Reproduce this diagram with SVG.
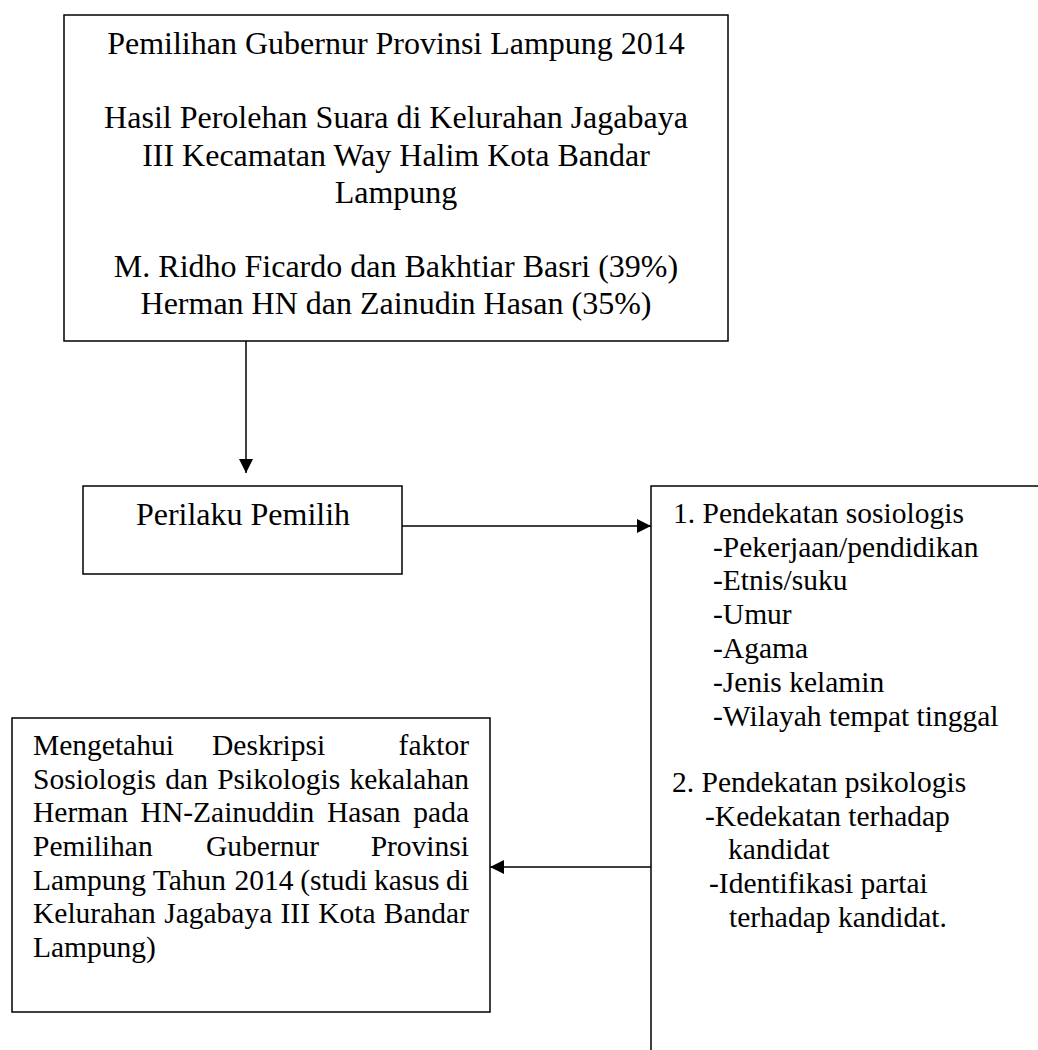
<svg xmlns="http://www.w3.org/2000/svg" width="1038" height="1050" viewBox="0 0 1038 1050">
<style>
  .box { fill: #ffffff; stroke: #000000; stroke-width: 1.5; }
  .ln { fill: none; stroke: #000000; stroke-width: 1.5; }
  .t32 { font-family: "Liberation Serif", "Times New Roman", serif; font-size: 32px; fill: #000000; }
  .t29 { font-family: "Liberation Serif", "Times New Roman", serif; font-size: 29.5px; fill: #000000; }
  .mid { text-anchor: middle; }
</style>
<defs>
  <marker id="arr" markerWidth="14" markerHeight="14" refX="14" refY="7" orient="auto" markerUnits="userSpaceOnUse">
    <path d="M0,0 L14,7 L0,14 Z" fill="#000000"/>
  </marker>
</defs>
<rect width="1038" height="1050" fill="#ffffff"/>

<g id="connectors">
  <line class="ln" x1="246" y1="341" x2="246" y2="473" marker-end="url(#arr)"/>
  <line class="ln" x1="402" y1="526" x2="651" y2="526" marker-end="url(#arr)"/>
  <line class="ln" x1="651" y1="867" x2="490" y2="867" marker-end="url(#arr)"/>
</g>

<g id="node-pilgub">
  <rect class="box" x="64" y="15" width="664" height="326"/>
  <text class="t32 mid" x="396" y="54">Pemilihan Gubernur Provinsi Lampung 2014</text>
  <text class="t32 mid" x="396" y="128">Hasil Perolehan Suara di Kelurahan Jagabaya</text>
  <text class="t32 mid" x="396" y="166">III Kecamatan Way Halim Kota Bandar</text>
  <text class="t32 mid" x="396" y="203">Lampung</text>
  <text class="t32 mid" x="396" y="277">M. Ridho Ficardo dan Bakhtiar Basri (39%)</text>
  <text class="t32 mid" x="396" y="314">Herman HN dan Zainudin Hasan (35%)</text>
</g>

<g id="node-perilaku">
  <rect class="box" x="83" y="486" width="319" height="88"/>
  <text class="t32 mid" x="243" y="525">Perilaku Pemilih</text>
</g>

<g id="node-pendekatan">
  <path class="ln" d="M1038,486 L651,486 L651,1050"/>
  <text class="t29" x="673" y="523">1. Pendekatan sosiologis</text>
  <text class="t29" x="713" y="557">-Pekerjaan/pendidikan</text>
  <text class="t29" x="713" y="590">-Etnis/suku</text>
  <text class="t29" x="713" y="624">-Umur</text>
  <text class="t29" x="713" y="658">-Agama</text>
  <text class="t29" x="713" y="692">-Jenis kelamin</text>
  <text class="t29" x="713" y="726">-Wilayah tempat tinggal</text>
  <text class="t29" x="672" y="792">2. Pendekatan psikologis</text>
  <text class="t29" x="705" y="826">-Kedekatan terhadap</text>
  <text class="t29" x="728" y="859">kandidat</text>
  <text class="t29" x="709" y="893">-Identifikasi partai</text>
  <text class="t29" x="729" y="927">terhadap kandidat.</text>
</g>

<g id="node-tujuan">
  <rect class="box" x="12" y="718" width="478" height="294"/>
  <text class="t29" y="755"><tspan x="33">Mengetahui</tspan><tspan x="212">Deskripsi</tspan><tspan x="469" text-anchor="end">faktor</tspan></text>
  <text class="t29" y="789"><tspan x="33">Sosiologis</tspan><tspan x="165.3">dan</tspan><tspan x="217.2">Psikologis</tspan><tspan x="469" text-anchor="end">kekalahan</tspan></text>
  <text class="t29" y="822"><tspan x="33">Herman</tspan><tspan x="140.6">HN-Zainuddin</tspan><tspan x="326.9">Hasan</tspan><tspan x="469" text-anchor="end">pada</tspan></text>
  <text class="t29" y="856"><tspan x="33">Pemilihan</tspan><tspan x="206">Gubernur</tspan><tspan x="469" text-anchor="end">Provinsi</tspan></text>
  <text class="t29" y="890"><tspan x="33">Lampung</tspan><tspan x="152.7">Tahun</tspan><tspan x="234.6">2014</tspan><tspan x="300.2">(studi</tspan><tspan x="374">kasus</tspan><tspan x="469" text-anchor="end">di</tspan></text>
  <text class="t29" y="923"><tspan x="33">Kelurahan</tspan><tspan x="164.2">Jagabaya</tspan><tspan x="280.5">III</tspan><tspan x="318.3">Kota</tspan><tspan x="469" text-anchor="end">Bandar</tspan></text>
  <text class="t29" y="957"><tspan x="33">Lampung)</tspan></text>
</g>
</svg>
